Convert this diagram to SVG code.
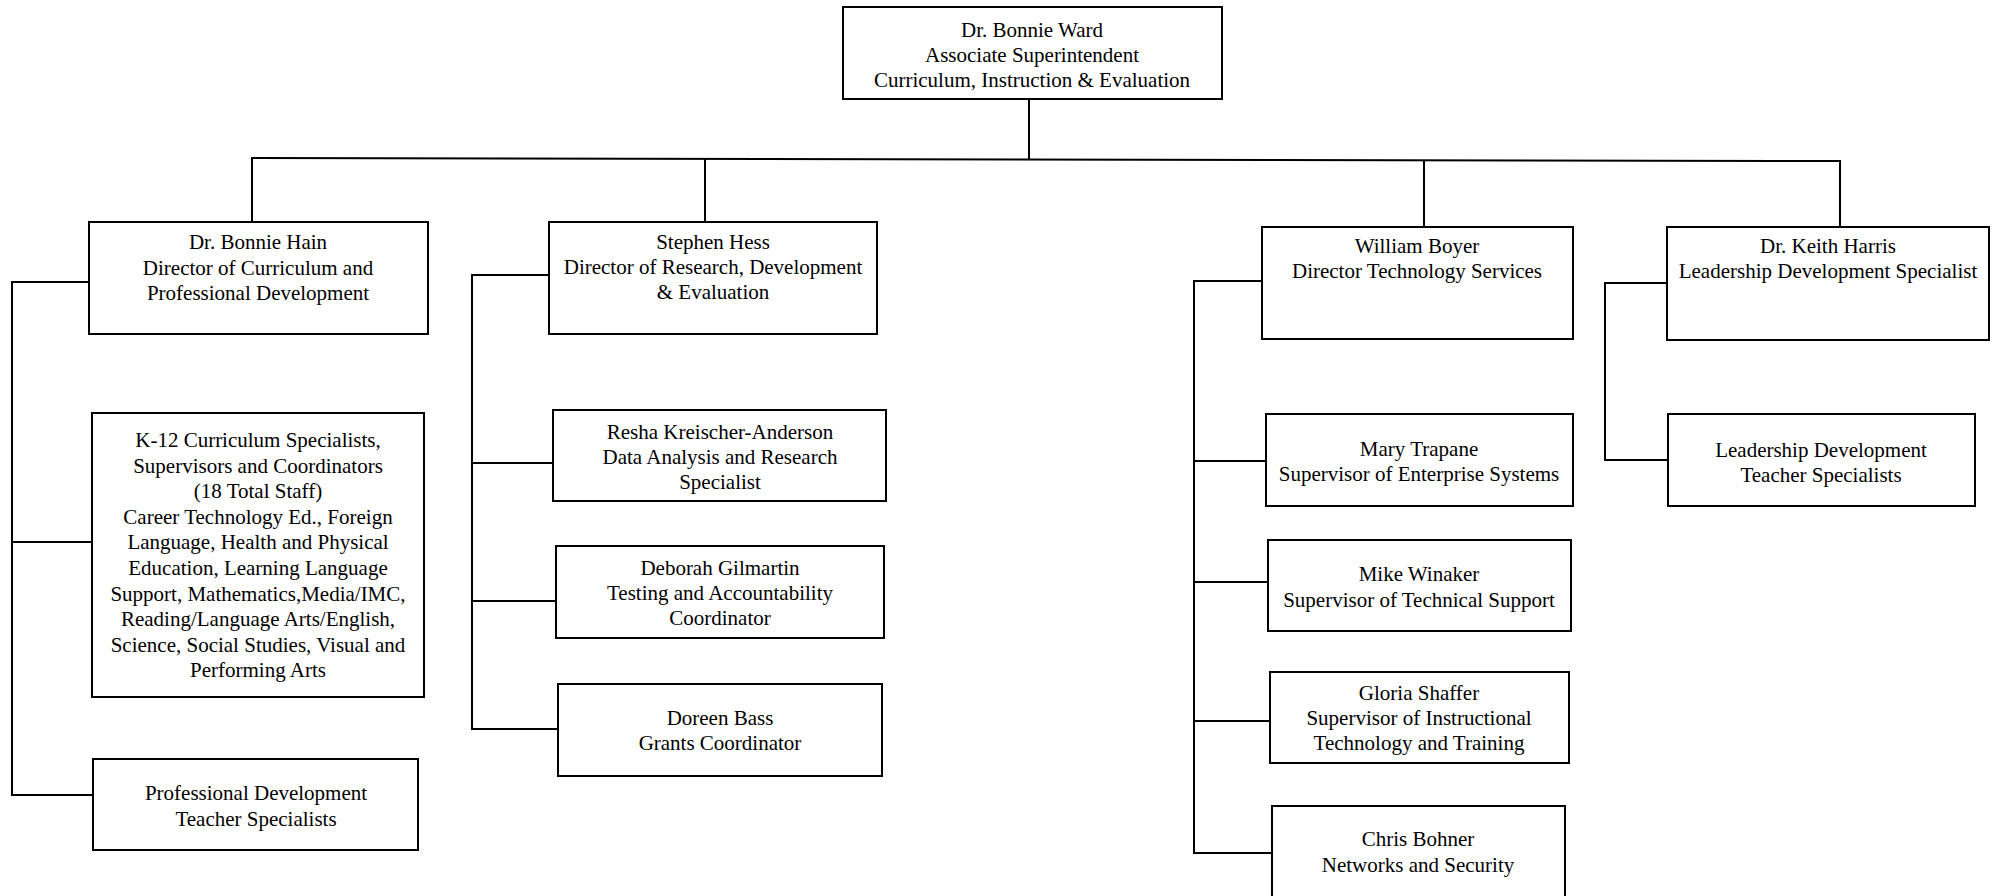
<svg xmlns="http://www.w3.org/2000/svg" width="1997" height="896" viewBox="0 0 1997 896">
<style>
.box{fill:#fff;stroke:#000;stroke-width:2}
.ln{fill:none;stroke:#000;stroke-width:2}
text{font-family:"Liberation Serif","Times New Roman",serif;font-size:21px;fill:#000;text-anchor:middle}
</style>
<rect width="1997" height="896" fill="#fff"/>
<g id="connectors">
<line class="ln" x1="1029" y1="99" x2="1029" y2="160"/>
<line class="ln" x1="251" y1="158" x2="1841" y2="161"/>
<line class="ln" x1="252" y1="158" x2="252" y2="222"/>
<line class="ln" x1="705" y1="159" x2="705" y2="222"/>
<line class="ln" x1="1424" y1="160" x2="1424" y2="227"/>
<line class="ln" x1="1840" y1="161" x2="1840" y2="227"/>
<polyline class="ln" points="89,282 12,282 12,795 93,795"/>
<line class="ln" x1="12" y1="542" x2="92" y2="542"/>
<polyline class="ln" points="549,275 472,275 472,729 558,729"/>
<line class="ln" x1="472" y1="463" x2="553" y2="463"/>
<line class="ln" x1="472" y1="601" x2="556" y2="601"/>
<polyline class="ln" points="1262,281 1194,281 1194,853 1272,853"/>
<line class="ln" x1="1194" y1="461" x2="1266" y2="461"/>
<line class="ln" x1="1194" y1="582" x2="1268" y2="582"/>
<line class="ln" x1="1194" y1="721" x2="1270" y2="721"/>
<polyline class="ln" points="1667,283 1605,283 1605,460 1668,460"/>
</g>
<g id="ward">
<rect class="box" x="843" y="7" width="379" height="92"/>
<text x="1032" y="37">Dr. Bonnie Ward</text>
<text x="1032" y="62">Associate Superintendent</text>
<text x="1032" y="87">Curriculum, Instruction &amp; Evaluation</text>
</g>
<g id="hain">
<rect class="box" x="89" y="222" width="339" height="112"/>
<text x="258" y="249">Dr. Bonnie Hain</text>
<text x="258" y="275">Director of Curriculum and</text>
<text x="258" y="300">Professional Development</text>
</g>
<g id="hess">
<rect class="box" x="549" y="222" width="328" height="112"/>
<text x="713" y="249">Stephen Hess</text>
<text x="713" y="274">Director of Research, Development</text>
<text x="713" y="299">&amp; Evaluation</text>
</g>
<g id="boyer">
<rect class="box" x="1262" y="227" width="311" height="112"/>
<text x="1417" y="253">William Boyer</text>
<text x="1417" y="278">Director Technology Services</text>
</g>
<g id="harris">
<rect class="box" x="1667" y="227" width="322" height="113"/>
<text x="1828" y="253">Dr. Keith Harris</text>
<text x="1828" y="278">Leadership Development Specialist</text>
</g>
<g id="k12">
<rect class="box" x="92" y="413" width="332" height="284"/>
<text x="258" y="447">K-12 Curriculum Specialists,</text>
<text x="258" y="472.6">Supervisors and Coordinators</text>
<text x="258" y="498.2">(18 Total Staff)</text>
<text x="258" y="523.8">Career Technology Ed., Foreign</text>
<text x="258" y="549.4">Language, Health and Physical</text>
<text x="258" y="575">Education, Learning Language</text>
<text x="258" y="600.6">Support, Mathematics,Media/IMC,</text>
<text x="258" y="626.2">Reading/Language Arts/English,</text>
<text x="258" y="651.8">Science, Social Studies, Visual and</text>
<text x="258" y="677.4">Performing Arts</text>
</g>
<g id="profdev">
<rect class="box" x="93" y="759" width="325" height="91"/>
<text x="256" y="800">Professional Development</text>
<text x="256" y="826">Teacher Specialists</text>
</g>
<g id="resha">
<rect class="box" x="553" y="410" width="333" height="91"/>
<text x="720" y="439">Resha Kreischer-Anderson</text>
<text x="720" y="464">Data Analysis and Research</text>
<text x="720" y="489">Specialist</text>
</g>
<g id="deborah">
<rect class="box" x="556" y="546" width="328" height="92"/>
<text x="720" y="575">Deborah Gilmartin</text>
<text x="720" y="600">Testing and Accountability</text>
<text x="720" y="625">Coordinator</text>
</g>
<g id="doreen">
<rect class="box" x="558" y="684" width="324" height="92"/>
<text x="720" y="725">Doreen Bass</text>
<text x="720" y="750">Grants Coordinator</text>
</g>
<g id="mary">
<rect class="box" x="1266" y="414" width="307" height="92"/>
<text x="1419" y="456">Mary Trapane</text>
<text x="1419" y="481">Supervisor of Enterprise Systems</text>
</g>
<g id="mike">
<rect class="box" x="1268" y="540" width="303" height="91"/>
<text x="1419" y="581">Mike Winaker</text>
<text x="1419" y="607">Supervisor of Technical Support</text>
</g>
<g id="gloria">
<rect class="box" x="1270" y="672" width="299" height="91"/>
<text x="1419" y="700">Gloria Shaffer</text>
<text x="1419" y="725">Supervisor of Instructional</text>
<text x="1419" y="750">Technology and Training</text>
</g>
<g id="chris">
<rect class="box" x="1272" y="806" width="293" height="100"/>
<text x="1418" y="846">Chris Bohner</text>
<text x="1418" y="872">Networks and Security</text>
</g>
<g id="leadership">
<rect class="box" x="1668" y="414" width="307" height="92"/>
<text x="1821" y="457">Leadership Development</text>
<text x="1821" y="482">Teacher Specialists</text>
</g>
</svg>
